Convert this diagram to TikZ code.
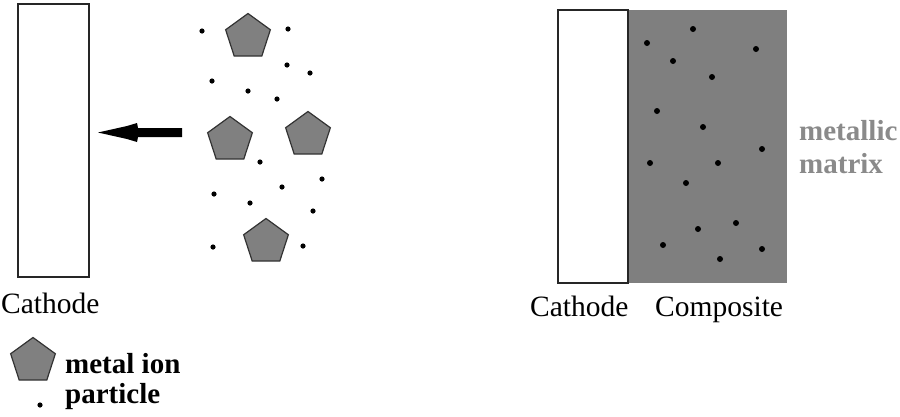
\documentclass[tikz,border=0pt]{standalone}
\usepackage{fontspec}
\setmainfont{Liberation Serif}
\usetikzlibrary{shapes.geometric}
\definecolor{ion}{HTML}{808080}
\definecolor{matrixgray}{HTML}{7F7F7F}
\definecolor{labelgray}{HTML}{8A8A8A}
\tikzset{
  ionshape/.style={regular polygon, regular polygon sides=5, minimum size=47pt, inner sep=0pt, fill=ion, draw=black!80, line width=1.2pt},
  lbl/.style={font=\fontsize{29.5}{33}\selectfont, inner sep=0pt, anchor=base west},
  blbl/.style={font=\fontsize{29}{33}\selectfont\bfseries, inner sep=0pt, anchor=base west},
  electrode/.style={draw=black!85, line width=1.4pt, fill=white},
  dotmark/.style={fill=black}
}
\begin{document}
\begin{tikzpicture}[x=1pt,y=-1pt]
\useasboundingbox (0,0) rectangle (900,416);
% left cathode
\draw[electrode] (18,4) rectangle (89,277);
\node[lbl] (cathL) at (1,313) {Cathode};
% arrow
\fill[black] (182,128) -- (138,128) -- (137,123) -- (127,126) -- (98,132.5) -- (127,139) -- (137,142) -- (138,137) -- (182,137) -- cycle;
% ions
\node[ionshape] (p1) at (248,37) {};
\node[ionshape] (p2) at (230,140) {};
\node[ionshape] (p3) at (308,135) {};
\node[ionshape] (p4) at (266,242) {};
% particles
\foreach \x/\y in {202/31,288/29,287/65,310/73,212/81,248/91,277/99,260/162,322/179,282/187,214/194,250/203,313/211,213/247,303/246}
  \fill[dotmark] (\x,\y) circle[radius=2.6pt];
% legend
\node[ionshape] (lp) at (33,361) {};
\node[blbl] (lmi) at (65,373) {metal ion};
\fill[dotmark] (40,405) circle[radius=2.6pt];
\node[blbl] (lpa) at (65,403) {particle};
% right side
\fill[matrixgray] (628,10) rectangle (787,283);
\draw[electrode] (558,10) rectangle (628,283);
\foreach \x/\y in {693/29,647/43,756/49,673/61,712/77,657/111,703/127,762/149,650/163,718/163,686/183,736/223,698/229,663/245,762/249,720/259}
  \fill[dotmark] (\x,\y) circle[radius=3pt];
\node[lbl] (cathR) at (530,316) {Cathode};
\node[lbl] (comp) at (655,316) {Composite};
\node[blbl, text=labelgray] (met) at (799,140) {metallic};
\node[blbl, text=labelgray] (mat) at (799,173) {matrix};
\end{tikzpicture}
\end{document}
